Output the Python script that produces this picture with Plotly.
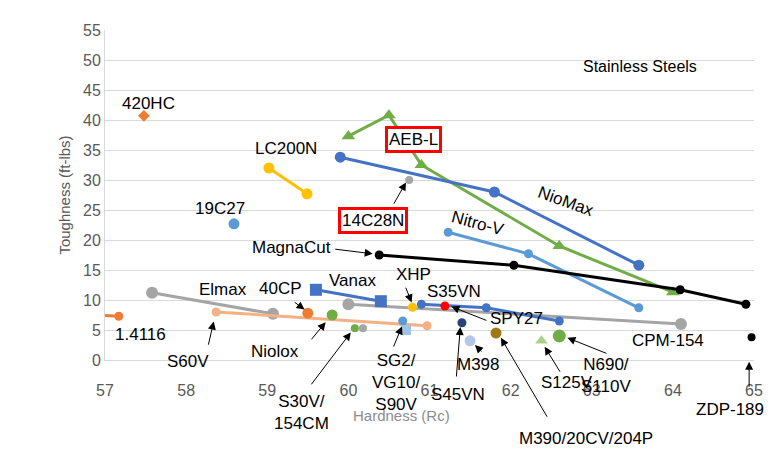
import plotly.graph_objects as go

# (name, x hardness, y toughness, colour, symbol, size)
series = [
    ("420HC", [57.48], [40.7], "#ED7D31", "diamond", 9),
    ("LC200N", [59.02, 59.49], [32.0, 27.7], "#FFC000", "circle", 11),
    ("19C27", [58.59], [22.7], "#5B9BD5", "circle", 11),
    ("AEB-L", [60.0, 60.5, 60.9, 62.6, 64.0], [37.3, 40.8, 32.5, 19.0, 11.3], "#70AD47", "triangle-up", 12),
    ("NioMax", [59.9, 61.8, 63.58], [33.8, 28.0, 15.8], "#4472C4", "circle", 11),
    ("14C28N", [60.75], [30.0], "#A5A5A5", "circle", 8),
    ("Nitro-V", [61.23, 62.22, 63.58], [21.3, 17.7, 8.7], "#5B9BD5", "circle", 9),
    ("MagnaCut", [60.38, 62.04, 64.09, 64.9], [17.5, 15.8, 11.7, 9.3], "black", "circle", 9),
    ("1.4116", [56.9, 57.17], [7.5, 7.3], "#ED7D31", "circle", 9),
    ("Elmax", [57.58, 59.07], [11.2, 7.7], "#A5A5A5", "circle", 12),
    ("CPM-154", [60.0, 64.1], [9.3, 6.0], "#A5A5A5", "circle", 12),
    ("S60V", [58.37, 60.97], [8.0, 5.7], "#F4B183", "circle", 9),
    ("40CP", [59.5], [7.8], "#ED7D31", "circle", 11),
    ("Vanax", [59.6, 60.4], [11.7, 9.8], "#4472C4", "square", 12),
    ("SPY27", [60.9, 61.7, 62.6], [9.3, 8.7, 6.5], "#4472C4", "circle", 9),
    ("XHP", [60.79], [8.8], "#FFC000", "circle", 9),
    ("S35VN", [61.19], [9.0], "#FF0000", "circle", 9),
    ("Niolox", [59.8], [7.5], "#70AD47", "circle", 11),
    ("S30V", [60.08], [5.3], "#70AD47", "circle", 8),
    ("154CM", [60.18], [5.3], "#A5A5A5", "circle", 8),
    ("SG2", [60.67], [6.5], "#5B9BD5", "circle", 9),
    ("S90V", [60.71], [5.0], "#9DC3E6", "square", 10),
    ("S45VN", [61.4], [6.2], "#264478", "circle", 9),
    ("M398", [61.5], [3.2], "#B4C7E7", "circle", 11),
    ("M390", [61.82], [4.5], "#9E7A16", "circle", 11),
    ("S125V", [62.38], [3.2], "#A9D18E", "triangle-up", 11),
    ("N690", [62.6], [4.0], "#70AD47", "circle", 13),
    ("ZDP-189", [64.97], [3.8], "black", "circle", 8),
]

# (text, x, y, angle)
labels = [
    ("420HC", 57.53, 42.8, 0), ("LC200N", 59.23, 35.2, 0), ("19C27", 58.42, 25.3, 0),
    ("NioMax", 62.68, 26.5, 20), ("Nitro-V", 61.6, 22.7, 15), ("MagnaCut", 59.3, 18.8, 0),
    ("Elmax", 58.45, 11.7, 0), ("40CP", 59.16, 12.0, 0), ("Vanax", 60.05, 13.3, 0),
    ("XHP", 60.8, 14.2, 0), ("S35VN", 61.3, 11.5, 0), ("SPY27", 62.07, 7.0, 0),
    ("1.4116", 57.44, 4.2, 0), ("S60V", 58.02, -0.3, 0), ("Niolox", 59.1, 1.5, 0),
    ("S30V/<br>154CM", 59.42, -8.7, 0), ("SG2/<br>VG10/<br>S90V", 60.59, -3.8, 0),
    ("M398", 61.6, -0.8, 0), ("S45VN", 61.35, -5.8, 0), ("M390/20CV/204P", 62.93, -13.0, 0),
    ("S125V", 62.7, -3.7, 0), ("N690/<br>S110V", 63.18, -2.5, 0), ("CPM-154", 63.94, 3.2, 0),
    ("ZDP-189", 64.71, -8.3, 0),
]
boxed = [("AEB-L", 60.8, 36.8), ("14C28N", 60.3, 23.3)]

# (tail x, tail y, head x, head y)
arrows = [
    (60.55, 25.8, 60.71, 29.6), (59.82, 18.5, 60.3, 17.7), (60.7, 12.3, 60.78, 9.6),
    (61.72, 6.5, 61.27, 8.9), (58.27, 2.3, 58.34, 6.4), (59.53, 3.2, 59.72, 6.3),
    (59.53, -4.3, 60.03, 4.6), (60.55, 2.0, 60.66, 5.6), (61.66, 1.2, 61.56, 2.5),
    (61.33, -3.0, 61.38, 5.5), (62.46, -9.7, 61.88, 3.7), (62.62, -2.2, 62.42, 2.2),
    (63.2, 1.0, 62.7, 3.7), (64.94, -4.7, 64.94, -0.3), (59.32, 9.8, 59.46, 8.4),
]

YMAX = 55


def dom(v):
    # y value -> fraction of the y axis, so annotations below 0 are not hidden
    return v / YMAX


fig = go.Figure()
for name, xs, ys, color, sym, size in series:
    fig.add_trace(go.Scatter(
        x=xs, y=ys, name=name, mode="lines+markers",
        line=dict(color=color, width=3),
        marker=dict(color=color, symbol=sym, size=size),
        cliponaxis=False,
    ))

font = dict(family="Liberation Sans, Arial", size=17, color="black")
common = dict(yref="y domain", xanchor="center", yanchor="middle", showarrow=False)
for text, x, y, ang in labels:
    fig.add_annotation(x=x, y=dom(y), text=text, textangle=ang, font=font, **common)
for text, x, y in boxed:
    fig.add_annotation(x=x, y=dom(y), text=text, font=font, bordercolor="#FF0000",
                       borderwidth=3, borderpad=1, bgcolor="white", **common)
for tx, ty, hx, hy in arrows:
    fig.add_annotation(x=hx, y=dom(hy), yref="y domain", ax=tx, ay=dom(ty), axref="x",
                       ayref="y domain", text="", showarrow=True, arrowhead=2,
                       arrowsize=1.6, arrowwidth=1, arrowcolor="black")
fig.add_annotation(x=63.6, y=dom(49.0), text="Stainless Steels",
                   font=dict(family="Liberation Sans, Arial", size=16, color="black"), **common)
fig.add_annotation(x=60.65, y=dom(-9.3), text="Hardness (Rc)",
                   font=dict(family="Liberation Sans, Arial", size=15, color="#8c8c8c"), **common)

fig.update_layout(
    width=780, height=450, showlegend=False,
    plot_bgcolor="white", paper_bgcolor="white",
    margin=dict(l=97, r=34, t=22, b=98),
    font=dict(family="Liberation Sans, Arial", size=15, color="#595959"),
)
fig.update_xaxes(range=[57, 65], dtick=1, showgrid=False, showline=True,
                 linecolor="#d9d9d9", zeroline=False, ticklabelstandoff=16,
                 tickfont=dict(size=16))
fig.update_yaxes(range=[0, YMAX], dtick=5, showgrid=True, gridcolor="#d9d9d9",
                 showline=True, linecolor="#d9d9d9", zeroline=False, tickfont=dict(size=16),
                 title=dict(text="Toughness (ft-lbs)", font=dict(size=15), standoff=8))
fig.write_html("out.html")
